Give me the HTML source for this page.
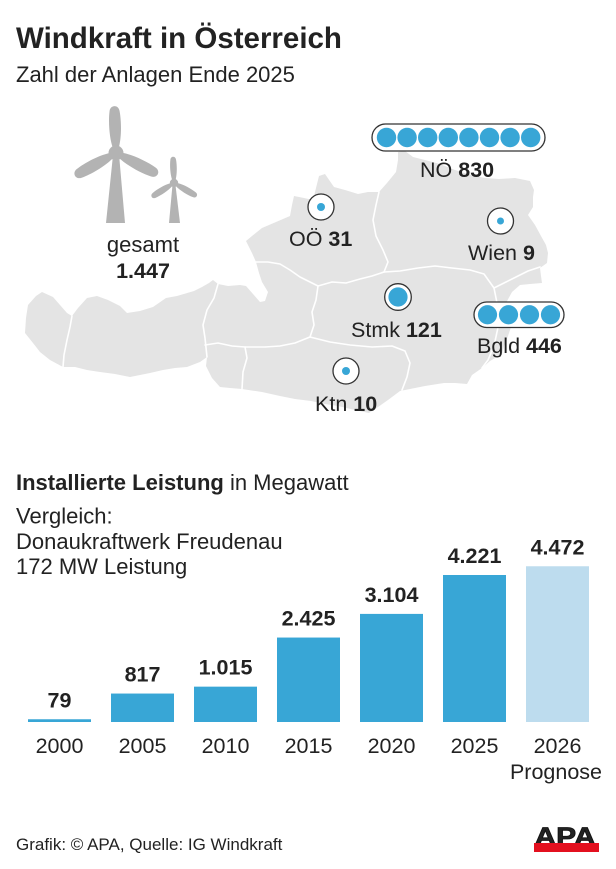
<!DOCTYPE html>
<html>
<head>
<meta charset="utf-8">
<style>
  html, body { margin:0; padding:0; background:#ffffff; }
  svg { display:block; }
  text { font-family: "Liberation Sans", Arial, sans-serif; fill:#222222; }
</style>
</head>
<body>
<svg width="616" height="869" viewBox="0 0 616 869" xmlns="http://www.w3.org/2000/svg">
  <rect x="0" y="0" width="616" height="869" fill="#ffffff"/>

  <!-- Title -->
  <text x="16" y="48" font-size="29.5" font-weight="bold" fill="#1a1a1a">Windkraft in Österreich</text>
  <text x="16" y="82" font-size="22">Zahl der Anlagen Ende 2025</text>

  <!-- Map of Austria -->
  <path fill="#e4e4e4" d="M25,333 L26,318 L28,305 L36,296 L42,292 L53,297 L60,305 L67,313 L72,316 L78,308 L87,298 L97,296 L108,300 L120,306 L127,313 L140,311 L153,307 L166,298 L177,296 L194,291 L202,287 L209,283 L213,280 L218,284 L228,286 L240,285 L246,286 L253,294 L260,302 L265,301 L268,292 L262,282 L259,273 L256,262 L252,253 L246,241 L252,236 L262,228 L276,222 L290,216 L292,205 L294,196 L304,198 L313,200 L316,188 L319,176 L325,174 L334,187 L345,190 L358,194 L368,192 L379,192 L387,183 L396,172 L398,160 L398,152 L405,151 L413,157 L425,160 L440,164 L455,170 L471,175 L485,178 L499,179 L515,178 L530,181 L534,190 L533,197 L533,207 L528,215 L535,225 L541,236 L546,245 L548,253 L547,263 L540,268 L541,276 L542,283 L530,284 L520,285 L512,292 L506,303 L500,311 L505,318 L512,324 L508,336 L504,346 L502,354 L490,361 L482,368 L472,375 L467,384 L455,383 L444,383 L425,386 L410,389 L400,391 L388,400 L378,407 L369,413 L355,410 L338,406 L325,404 L311,401 L295,399 L280,396 L262,392 L242,389 L230,388 L220,387 L212,378 L206,366 L207,357 L200,362 L187,367 L175,368 L163,370 L150,373 L130,377 L115,374 L100,372 L87,370 L75,367 L63,367 L50,360 L40,352 L33,343 Z"/>
  <g fill="none" stroke="#ffffff" stroke-width="1.6" stroke-linejoin="round" stroke-linecap="round">
    <path d="M72,316 L70,327 L67,340 L64,355 L63,367"/>
    <path d="M218,284 L214,298 L207,310 L203,325 L205,338 L207,357"/>
    <path d="M205,345 L218,343 L232,346 L245,347 L247,358 L243,372 L242,389"/>
    <path d="M245,347 L265,347 L280,346 L295,343 L310,337"/>
    <path d="M256,262 L268,262 L280,264 L290,270 L300,277 L310,282 L318,286"/>
    <path d="M318,286 L316,300 L312,312 L314,325 L310,337"/>
    <path d="M318,286 L332,282 L346,283 L360,279 L372,276 L384,272"/>
    <path d="M379,192 L376,205 L373,220 L376,236 L383,250 L388,262 L384,272"/>
    <path d="M384,272 L400,271 L418,268 L435,266 L452,268 L470,270 L484,274 L494,288"/>
    <path d="M494,288 L504,283 L516,277 L528,271 L540,267"/>
    <path d="M494,288 L497,303 L500,318 L497,332 L494,346 L488,360 L482,368"/>
    <path d="M310,337 L330,342 L350,345 L372,347 L392,346 L405,351 L410,363 L407,377 L402,390"/>
  </g>

  <!-- Wind turbines -->
  <defs>
    <path id="blade" d="M6,-3.2 C16,-6.2 32,-6.6 42,-5 C48.5,-4 48.5,4 42,5 C32,6.6 16,6.2 6,3.2 Z"/>
  </defs>
  <g fill="#b3b3b3">
    <polygon points="112.5,160 119.5,160 125,223 106,223"/>
    <g transform="translate(116,153)">
      <use href="#blade" transform="rotate(-92)"/>
      <use href="#blade" transform="rotate(27)"/>
      <use href="#blade" transform="rotate(151)"/>
      <circle cx="0" cy="0" r="7.5"/>
    </g>
    <polygon points="172.3,187 175.7,187 180,223 169,223"/>
    <g transform="translate(174,183) scale(0.56)">
      <use href="#blade" transform="rotate(-92)"/>
      <use href="#blade" transform="rotate(30)"/>
      <use href="#blade" transform="rotate(148)"/>
      <circle cx="0" cy="0" r="7.5"/>
    </g>
  </g>
  <text x="143" y="252" font-size="22" text-anchor="middle">gesamt</text>
  <text x="143" y="278" font-size="21.5" font-weight="bold" text-anchor="middle">1.447</text>

  <!-- NÖ bubble -->
  <rect x="372" y="124" width="173" height="27" rx="13.5" fill="#ffffff" stroke="#333333" stroke-width="1.3"/>
  <g fill="#38a6d6">
    <circle cx="386.5" cy="137.5" r="9.7"/>
    <circle cx="407.1" cy="137.5" r="9.7"/>
    <circle cx="427.7" cy="137.5" r="9.7"/>
    <circle cx="448.3" cy="137.5" r="9.7"/>
    <circle cx="468.9" cy="137.5" r="9.7"/>
    <circle cx="489.5" cy="137.5" r="9.7"/>
    <circle cx="510.1" cy="137.5" r="9.7"/>
    <circle cx="530.7" cy="137.5" r="9.7"/>
  </g>
  <text x="420" y="177" font-size="21.5">NÖ <tspan font-weight="bold">830</tspan></text>

  <!-- OÖ -->
  <circle cx="321" cy="207" r="13" fill="#ffffff" stroke="#333333" stroke-width="1.3"/>
  <circle cx="321" cy="207" r="4" fill="#38a6d6"/>
  <text x="289" y="246" font-size="21.5">OÖ <tspan font-weight="bold">31</tspan></text>

  <!-- Wien -->
  <circle cx="500.5" cy="221" r="13" fill="#ffffff" stroke="#333333" stroke-width="1.3"/>
  <circle cx="500.5" cy="221" r="3.5" fill="#38a6d6"/>
  <text x="468" y="260" font-size="21.5">Wien <tspan font-weight="bold">9</tspan></text>

  <!-- Stmk -->
  <circle cx="398" cy="297" r="13.3" fill="#ffffff" stroke="#333333" stroke-width="1.3"/>
  <circle cx="398" cy="297" r="9.6" fill="#38a6d6"/>
  <text x="351" y="337" font-size="21.5">Stmk <tspan font-weight="bold">121</tspan></text>

  <!-- Bgld bubble -->
  <rect x="474" y="302" width="90" height="25.5" rx="12.75" fill="#ffffff" stroke="#333333" stroke-width="1.3"/>
  <g fill="#38a6d6">
    <circle cx="487.5" cy="314.75" r="9.6"/>
    <circle cx="508.5" cy="314.75" r="9.6"/>
    <circle cx="529.5" cy="314.75" r="9.6"/>
    <circle cx="550.5" cy="314.75" r="9.6"/>
  </g>
  <text x="477" y="353" font-size="21.5">Bgld <tspan font-weight="bold">446</tspan></text>

  <!-- Ktn -->
  <circle cx="346" cy="371" r="13" fill="#ffffff" stroke="#333333" stroke-width="1.3"/>
  <circle cx="346" cy="371" r="4" fill="#38a6d6"/>
  <text x="315" y="411" font-size="21.5">Ktn <tspan font-weight="bold">10</tspan></text>

  <!-- Bar chart section -->
  <text x="16" y="490" font-size="22"><tspan font-weight="bold">Installierte Leistung</tspan> in Megawatt</text>
  <text x="16" y="523.5" font-size="22">Vergleich:</text>
  <text x="16" y="549" font-size="22">Donaukraftwerk Freudenau</text>
  <text x="16" y="574" font-size="22">172 MW Leistung</text>

  <g fill="#38a6d6">
    <rect x="28" y="719.25" width="63" height="2.75"/>
    <rect x="111" y="693.55" width="63" height="28.45"/>
    <rect x="194" y="686.65" width="63" height="35.35"/>
    <rect x="277" y="637.55" width="63" height="84.45"/>
    <rect x="360" y="613.9" width="63" height="108.1"/>
    <rect x="443" y="575" width="63" height="147"/>
  </g>
  <rect x="526" y="566.26" width="63" height="155.74" fill="#bddcee"/>

  <g font-size="21.5" font-weight="bold" text-anchor="middle">
    <text x="59.5" y="707.25">79</text>
    <text x="142.5" y="681.5">817</text>
    <text x="225.5" y="674.6">1.015</text>
    <text x="308.5" y="625.5">2.425</text>
    <text x="391.5" y="601.9">3.104</text>
    <text x="474.5" y="563">4.221</text>
    <text x="557.5" y="554.3">4.472</text>
  </g>
  <g font-size="21.5" text-anchor="middle">
    <text x="59.5" y="753">2000</text>
    <text x="142.5" y="753">2005</text>
    <text x="225.5" y="753">2010</text>
    <text x="308.5" y="753">2015</text>
    <text x="391.5" y="753">2020</text>
    <text x="474.5" y="753">2025</text>
    <text x="557.5" y="753">2026</text>
    <text x="556" y="779">Prognose</text>
  </g>

  <!-- Footer -->
  <text x="16" y="850" font-size="17">Grafik: © APA, Quelle: IG Windkraft</text>
  <g>
    <text x="0" y="0" font-size="25" font-weight="bold" fill="#111111" stroke="#111111" stroke-width="0.8" transform="translate(534.5,845) scale(1.2,1)">APA</text>
    <rect x="534" y="843" width="65" height="9" fill="#e3101f"/>
  </g>
</svg>
</body>
</html>
